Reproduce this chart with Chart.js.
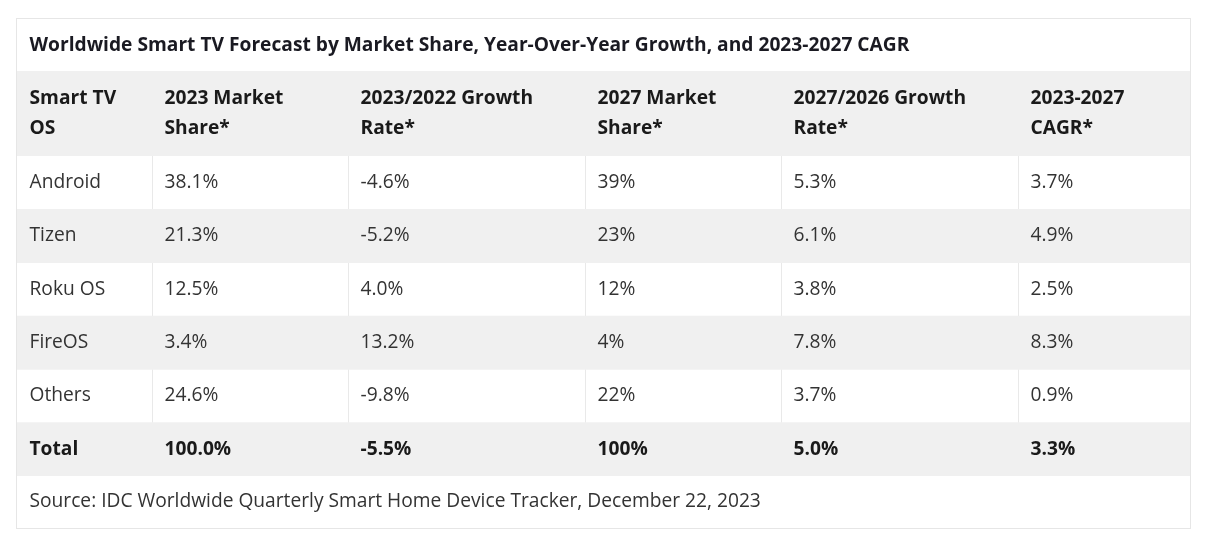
<!DOCTYPE html>
<html lang="en">
<head>
    <meta charset="UTF-8">
    <title>Worldwide Smart TV Forecast</title>
    <script src="https://cdn.jsdelivr.net/npm/chart.js"></script>
    <style>
        html, body { margin: 0; padding: 0; background: #fff; }
        #box {
            position: absolute; left: 16px; top: 18px;
            width: 1175px; height: 511px;
            border: 1px solid #e6e6e6; box-sizing: border-box;
        }
    </style>
</head>
<body>
    <div id="box">
        <canvas id="tableChart"></canvas>
    </div>

    <script>
        const chartTitle = 'Worldwide Smart TV Forecast by Market Share, Year-Over-Year Growth, and 2023-2027 CAGR';
        const sourceNote = 'Source: IDC Worldwide Quarterly Smart Home Device Tracker, December 22, 2023';
        const headers = [
            ['Smart TV', 'OS'],
            ['2023 Market', 'Share*'],
            ['2023/2022 Growth', 'Rate*'],
            ['2027 Market', 'Share*'],
            ['2027/2026 Growth', 'Rate*'],
            ['2023-2027', 'CAGR*']
        ];
        const osNames = ['Android', 'Tizen', 'Roku OS', 'FireOS', 'Others'];
        const share2023 = [38.1, 21.3, 12.5, 3.4, 24.6];
        const growth2023 = [-4.6, -5.2, 4.0, 13.2, -9.8];
        const share2027 = [39, 23, 12, 4, 22];
        const growth2027 = [5.3, 6.1, 3.8, 7.8, 3.7];
        const cagr = [3.7, 4.9, 2.5, 8.3, 0.9];
        const totalLabel = 'Total';
        const totals = [100.0, -5.5, 100, 5.0, 3.3];
        const decimals = [1, 1, 0, 1, 1];

        // Layout (table geometry, not data)
        const colWidths = [135, 196, 237, 196, 237, 172];
        const tableWidth = colWidths.reduce((a, b) => a + b, 0);
        const colEdges = colWidths.slice(0, -1).map((w, i) => colWidths.slice(0, i + 1).reduce((a, b) => a + b, 0));
        const titleHeight = 52;
        const headerHeight = 85;
        const sourceHeight = 52;
        const cellPad = 12.5;
        const stripe = '#f0f0f0';
        const font = '"Open Sans", "Noto Sans", sans-serif';

        const rowLabels = osNames.concat([totalLabel]);
        const rowValues = osNames.map((_, i) => [share2023[i], growth2023[i], share2027[i], growth2027[i], cagr[i]]);
        rowValues.push(totals);

        // gray stripes on every second row
        const stripeData = rowLabels.map((_, i) => (i % 2 === 1 ? [0, tableWidth] : null));

        const tableText = {
            id: 'tableText',
            beforeDatasetsDraw(chart) {
                const { ctx, chartArea } = chart;
                const x = chart.scales.x;
                ctx.save();
                ctx.fillStyle = stripe;
                ctx.fillRect(x.getPixelForValue(0), chartArea.top - headerHeight,
                    x.getPixelForValue(tableWidth) - x.getPixelForValue(0), headerHeight);
                ctx.restore();
            },
            afterDatasetsDraw(chart) {
                const { ctx, chartArea } = chart;
                const x = chart.scales.x;
                const y = chart.scales.y;
                const starts = [0].concat(colEdges).map(v => x.getPixelForValue(v) + cellPad);
                ctx.save();
                ctx.textBaseline = 'middle';
                ctx.textAlign = 'left';

                // title
                ctx.fillStyle = '#1a1a22';
                ctx.font = 'bold 19.2px ' + font;
                ctx.fillText(chartTitle, starts[0], titleHeight / 2 + 1);

                // header
                ctx.fillStyle = '#1a1a1a';
                ctx.font = 'bold 19.2px ' + font;
                const hMid = chartArea.top - headerHeight / 2;
                headers.forEach((lines, c) => {
                    lines.forEach((t, k) => {
                        ctx.fillText(t, starts[c], hMid + (k - (lines.length - 1) / 2) * 30);
                    });
                });

                // body rows
                rowLabels.forEach((name, r) => {
                    const yy = y.getPixelForValue(r);
                    const isTotal = r === rowLabels.length - 1;
                    ctx.font = (isTotal ? 'bold ' : '') + '19.2px ' + font;
                    ctx.fillStyle = isTotal ? '#1a1a1a' : '#333333';
                    ctx.fillText(name, starts[0], yy);
                    rowValues[r].forEach((v, c) => {
                        ctx.fillText(v.toFixed(decimals[c]) + '%', starts[c + 1], yy);
                    });
                });

                // source
                ctx.font = '19.2px ' + font;
                ctx.fillStyle = '#333333';
                ctx.fillText(sourceNote, starts[0], chartArea.bottom + sourceHeight / 2);
                ctx.restore();
            }
        };

        new Chart(document.getElementById('tableChart'), {
            type: 'bar',
            data: {
                labels: rowLabels,
                datasets: [{
                    data: stripeData,
                    backgroundColor: stripe,
                    borderWidth: 0,
                    barPercentage: 1,
                    categoryPercentage: 1
                }]
            },
            options: {
                indexAxis: 'y',
                responsive: true,
                maintainAspectRatio: false,
                animation: false,
                layout: {
                    padding: { top: titleHeight + headerHeight, bottom: sourceHeight, left: 0, right: 0 }
                },
                plugins: {
                    legend: { display: false },
                    tooltip: { enabled: false }
                },
                scales: {
                    x: {
                        type: 'linear',
                        min: 0,
                        max: tableWidth,
                        afterBuildTicks: (scale) => {
                            scale.ticks = colEdges.map(v => ({ value: v }));
                        },
                        grid: { color: '#e9e9e9', drawTicks: false },
                        border: { display: false },
                        ticks: { display: false }
                    },
                    y: {
                        display: false
                    }
                }
            },
            plugins: [tableText]
        });
    </script>
</body>
</html>
